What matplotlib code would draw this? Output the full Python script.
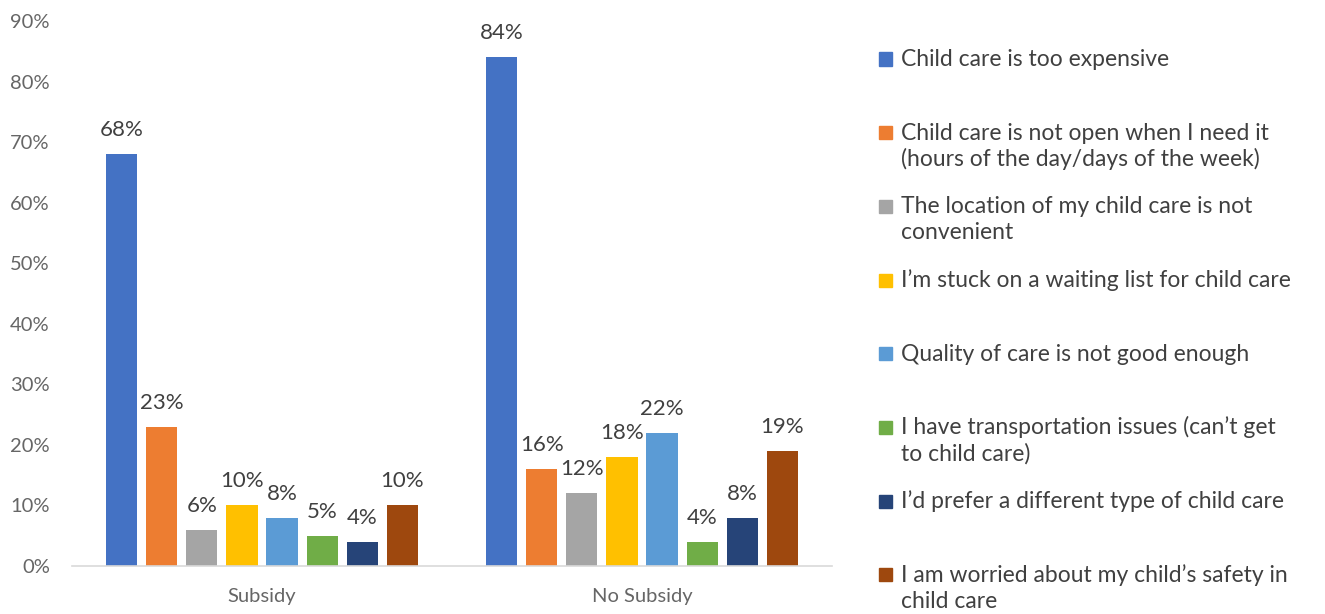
import numpy as np
import matplotlib.pyplot as plt
from matplotlib.patches import Rectangle

plt.rcParams['font.family'] = ['Lato', 'DejaVu Sans']

# Categorias y series
grupos = ['Subsidy', 'No Subsidy']
motivos = [
    'Child care is too expensive',
    'Child care is not open when I need it\n(hours of the day/days of the week)',
    'The location of my child care is not\nconvenient',
    'I’m stuck on a waiting list for child care',
    'Quality of care is not good enough',
    'I have transportation issues (can’t get\nto child care)',
    'I’d prefer a different type of child care',
    'I am worried about my child’s safety in\nchild care',
]
subsidy = [68, 23, 6, 10, 8, 5, 4, 10]
no_subsidy = [84, 16, 12, 18, 22, 4, 8, 19]
colores = ['#4472C4', '#ED7D31', '#A5A5A5', '#FFC000',
           '#5B9BD5', '#70AD47', '#264478', '#9E480E']

W, H = 1325, 614
fig = plt.figure(figsize=(W / 100, H / 100), dpi=100)
ax = fig.add_axes([72 / W, 48 / H, 760 / W, 545 / H])

x = np.arange(len(grupos))
paso = 0.1055
ancho = 0.082
valores = np.array([subsidy, no_subsidy]) / 100

for i, (motivo, color) in enumerate(zip(motivos, colores)):
    pos = x + (i - 3.5) * paso
    barras = ax.bar(pos, valores[:, i], ancho, color=color)
    for b, v in zip(barras, valores[:, i]):
        ax.annotate(f'{v:.0%}', (b.get_x() + b.get_width() / 2, v),
                    xytext=(0, 13), textcoords='offset points',
                    ha='center', va='baseline', fontsize=16, color='#404040')

ax.set_xlim(-0.5, 1.5)
ax.set_ylim(0, 0.9)
ax.set_yticks(np.arange(0, 0.91, 0.1))
ax.set_yticklabels([f'{t}%' for t in range(0, 91, 10)])
ax.set_xticks(x)
ax.set_xticklabels(grupos)
ax.tick_params(axis='both', length=0, labelsize=14.5, labelcolor='#666666')
ax.tick_params(axis='y', pad=16)
ax.tick_params(axis='x', pad=16)
for s in ['top', 'right', 'left']:
    ax.spines[s].set_visible(False)
ax.spines['bottom'].set_color('#d9d9d9')
ax.spines['bottom'].set_linewidth(1.2)

# Leyenda hecha a mano (entradas a paso fijo, como en Excel)
for i, (motivo, color) in enumerate(zip(motivos, colores)):
    yc = 59 + 73.7 * i
    fig.patches.append(Rectangle((879 / W, 1 - (yc + 6.5) / H), 13 / W, 13 / H,
                                 transform=fig.transFigure, color=color))
    for k, linea in enumerate(motivo.split('\n')):
        fig.text(901 / W, 1 - (yc + 7 + 26 * k) / H, linea, fontsize=16.5,
                 color='#404040', va='baseline', ha='left')

fig.savefig('out.png', dpi=100)
